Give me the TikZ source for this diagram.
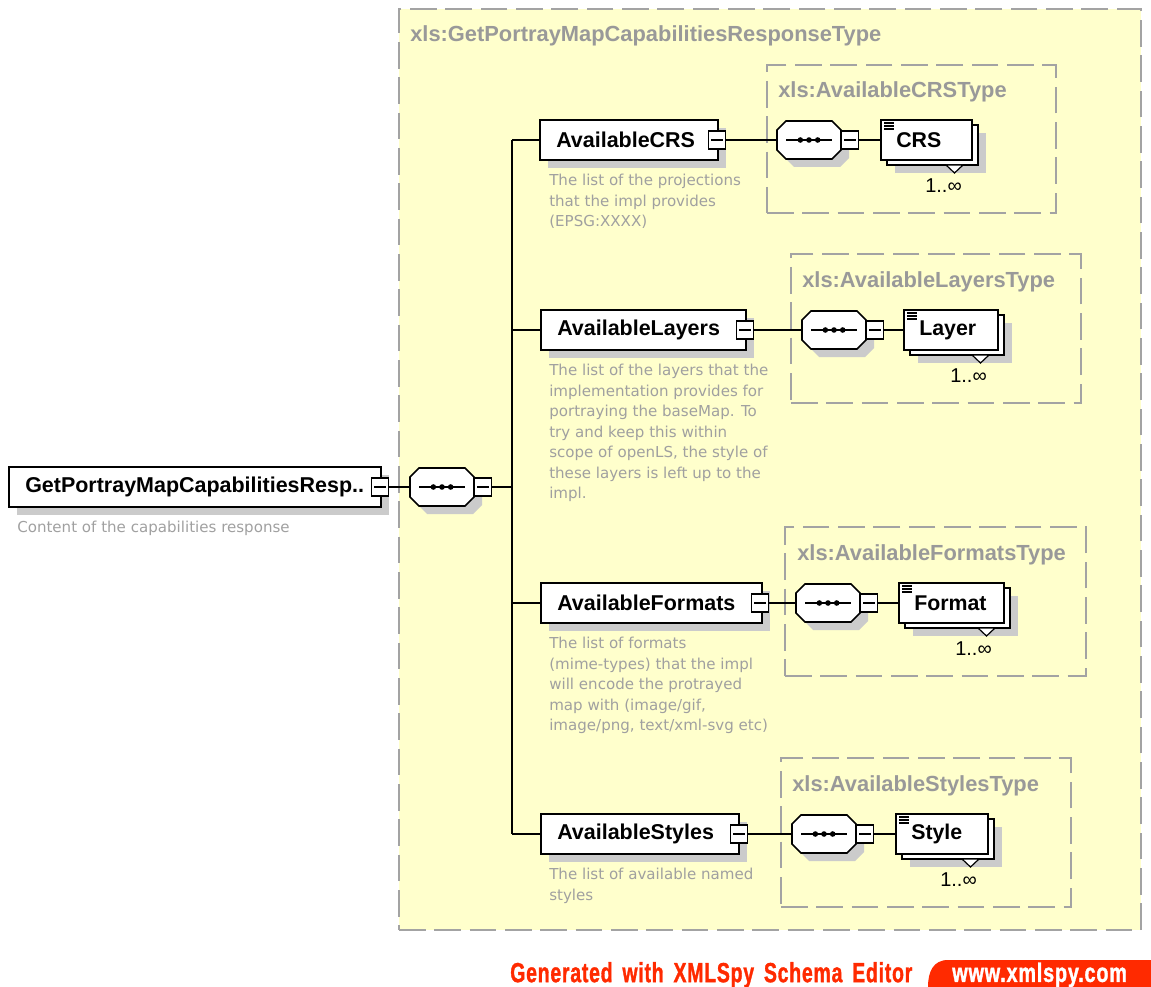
\documentclass[tikz,border=0pt]{standalone}
\usepackage{fontspec}
\usepackage{graphicx}
\setmainfont{Liberation Sans}
\newfontfamily\descfont{DejaVu Sans}
\newfontfamily\footfont[FakeStretch=0.76,LetterSpace=3,WordSpace=1.6,FakeBold=1.2]{Liberation Sans Bold}
\definecolor{paneyellow}{HTML}{FFFFCC}
\definecolor{shadowgrey}{HTML}{CBCBCB}
\definecolor{dashgrey}{HTML}{A3A3A3}
\definecolor{titlegrey}{HTML}{999999}
\definecolor{descgrey}{HTML}{A0A0A0}
\definecolor{footred}{HTML}{FF2A00}
\tikzset{
  x=0.75pt,y=-0.75pt,
  wire/.style={line width=1.2pt,black},
  inner/.style={line width=1pt,black},
  pane/.style={draw=dashgrey,line width=1.2pt,dash pattern=on 20pt off 6.5pt},
  boxed/.style={rectangle,draw=black,line width=1.2pt,fill=white,inner sep=0pt},
  shade/.style={rectangle,fill=shadowgrey,inner sep=0pt},
  minusbox/.style={rectangle,draw=black,line width=1.1pt,fill=white,inner sep=0pt,minimum width=13pt,minimum height=13.5pt},
  octanchor/.style={rectangle,inner sep=0pt,minimum width=48pt,minimum height=28.5pt},
  labeltext/.style={inner sep=0pt,anchor=west,font=\fontsize{16.1}{18}\selectfont\bfseries},
  typetitle/.style={inner sep=0pt,anchor=west,text=titlegrey,font=\fontsize{16.4}{18}\selectfont\bfseries},
  desc/.style={inner sep=0pt,anchor=north west,align=left,text=descgrey,font=\descfont\fontsize{11.3}{15.4}\selectfont},
  mult/.style={inner sep=0pt,anchor=west,font=\fontsize{15}{18}\selectfont},
}
% \minusb{name}{x}{y}
\newcommand{\minusb}[3]{%
  \node[minusbox] (#1) at (#2,#3) {};
  \draw[line width=0.8pt] ([xshift=-4.5pt]#1.center) -- ([xshift=4.5pt]#1.center);
}
% \elem{name}{x0}{x1}{y}{label}{minus x}
\newcommand{\elem}[6]{%
  \node[shade,minimum width={(#3-#2)*0.75pt},minimum height=30pt] at ({(#2+#3)/2+8},#4+8) {};
  \node[boxed,minimum width={(#3-#2)*0.75pt},minimum height=30pt] (#1) at ({(#2+#3)/2},#4) {};
  \node[labeltext] (#1-t) at (#2+16,#4) {#5};
  \minusb{#1-m}{#6}{#4}
}
% octagon outline: \octpath{x0}{y}
\newcommand{\octpath}[2]{(#1,#2-10) -- (#1+9,#2-19) -- (#1+55,#2-19) -- (#1+64,#2-10) -- (#1+64,#2+10) -- (#1+55,#2+19) -- (#1+9,#2+19) -- (#1,#2+10) -- cycle}
% \seq{name}{x0}{y}
\newcommand{\seq}[3]{%
  \fill[shadowgrey] \octpath{#2+8}{#3+8};
  \draw[line width=1.2pt,black,fill=white] \octpath{#2}{#3};
  \node[octanchor] (#1) at (#2+32,#3) {};
  \draw[inner] ([xshift=-17pt]#1.center) -- ([xshift=17pt]#1.center);
  \foreach \d in {-6.5,0,6.5} \fill ([xshift=\d pt]#1.center) circle (2.1pt);
  \minusb{#1-m}{#2+73}{#3}
}
% \rep{name}{x0}{x1}{y}{label}{mult x}
\newcommand{\rep}[6]{%
  \node[shade,minimum width={(#3-#2)*0.75pt},minimum height=30pt] at ({(#2+#3)/2+14},#4+13) {};
  \node[boxed,minimum width={(#3-#2)*0.75pt},minimum height=30pt] (#1-b) at ({(#2+#3)/2+6},#4+5) {};
  \node[boxed,minimum width={(#3-#2)*0.75pt},minimum height=30pt] (#1) at ({(#2+#3)/2},#4) {};
  \draw[line width=0.9pt,black,fill=white] (#3-26,#4+25) -- (#3-9,#4+25) -- (#3-17.5,#4+33) -- cycle;
  \foreach \d in {0,3,6} \draw[line width=0.8pt] (#2+3,#4-17+\d) -- (#2+13,#4-17+\d);
  \node[labeltext,font=\fontsize{16}{18}\selectfont\bfseries] (#1-t) at (#2+15,#4) {#5};
  \node[mult] (#1-n) at (#6,#4+46) {1..∞};
}
\begin{document}
\begin{tikzpicture}
\useasboundingbox (0,0) rectangle (1151,987);
% panes
\node[pane,fill=paneyellow,rectangle,inner sep=0pt,minimum width={742*0.75pt},minimum height={921*0.75pt}] (outer) at (770,469.5) {};
\node[typetitle] (outer-t) at (410,36) {xls:GetPortrayMapCapabilitiesResponseType};
\node[pane,rectangle,inner sep=0pt,minimum width={289*0.75pt},minimum height={148*0.75pt}] (paneA) at (911.5,139) {};
\node[typetitle] (paneA-t) at (778,92) {xls:AvailableCRSType};
\node[pane,rectangle,inner sep=0pt,minimum width={290*0.75pt},minimum height={149*0.75pt}] (paneB) at (936,328.5) {};
\node[typetitle] (paneB-t) at (802,282) {xls:AvailableLayersType};
\node[pane,rectangle,inner sep=0pt,minimum width={301*0.75pt},minimum height={149*0.75pt}] (paneC) at (935.5,601.5) {};
\node[typetitle] (paneC-t) at (797,555) {xls:AvailableFormatsType};
\node[pane,rectangle,inner sep=0pt,minimum width={290*0.75pt},minimum height={149*0.75pt}] (paneD) at (926,832.5) {};
\node[typetitle] (paneD-t) at (792,786) {xls:AvailableStylesType};
% root
\elem{root}{9}{381}{487}{GetPortrayMapCapabilitiesResp..}{380}
\seq{rootseq}{410}{487}
\coordinate (trunk) at (512,487);
\coordinate (trunkA) at (512,140);
\coordinate (trunkB) at (512,330);
\coordinate (trunkC) at (512,603);
\coordinate (trunkD) at (512,834);
% children
\elem{crs}{540}{718}{140}{AvailableCRS}{717}
\seq{crsseq}{777}{140}
\rep{crsitem}{881}{972}{140}{CRS}{925}
\elem{layers}{541}{746}{330}{AvailableLayers}{745}
\seq{layersseq}{802}{330}
\rep{layersitem}{904}{998}{330}{Layer}{950}
\elem{formats}{541}{762}{603}{AvailableFormats}{760}
\seq{formatsseq}{796}{603}
\rep{formatsitem}{899}{1004}{603}{Format}{955}
\elem{styles}{541}{739}{834}{AvailableStyles}{739}
\seq{stylesseq}{792}{834}
\rep{stylesitem}{896}{988}{834}{Style}{940}
% connectors
\draw[wire] (root-m.east) -- (rootseq.west);
\draw[wire] (rootseq-m.east) -- (trunk);
\draw[wire] (trunkA) -- (trunkD);
\draw[wire] (trunkA) -- (crs.west);
\draw[wire] (trunkB) -- (layers.west);
\draw[wire] (trunkC) -- (formats.west);
\draw[wire] (trunkD) -- (styles.west);
\draw[wire] (crs-m.east) -- (crsseq.west);
\draw[wire] (crsseq-m.east) -- (crsitem.west);
\draw[wire] (layers-m.east) -- (layersseq.west);
\draw[wire] (layersseq-m.east) -- (layersitem.west);
\draw[wire] (formats-m.east) -- (formatsseq.west);
\draw[wire] (formatsseq-m.east) -- (formatsitem.west);
\draw[wire] (styles-m.east) -- (stylesseq.west);
\draw[wire] (stylesseq-m.east) -- (stylesitem.west);
% descriptions
\node[desc] (root-d) at (17,521) {Content of the capabilities response};
\node[desc] (crs-d) at (549,174) {The list of the projections\\that the impl provides\\(EPSG:XXXX)};
\node[desc] (layers-d) at (549,364) {The list of the layers that the\\implementation provides for\\portraying the baseMap. To\\try and keep this within\\scope of openLS, the style of\\these layers is left up to the\\impl.};
\node[desc] (formats-d) at (549,637) {The list of formats\\(mime-types) that the impl\\will encode the protrayed\\map with (image/gif,\\image/png, text/xml-svg etc)};
\node[desc] (styles-d) at (549,868) {The list of available named\\styles};
% footer
\node[inner sep=0pt,anchor=west,text=footred] (foot-l) at (510,975) {\resizebox{301.5pt}{15pt}{\footfont Generated with XMLSpy Schema Editor}};
\fill[footred] (928,987) .. controls (928,972) and (933,960) .. (948,960) -- (1151,960) -- (1151,987) -- cycle;
\node[inner sep=0pt,anchor=west,text=white] (foot-r) at (952,975) {\resizebox{131pt}{14.5pt}{\footfont www.xmlspy.com}};
\end{tikzpicture}
\end{document}
